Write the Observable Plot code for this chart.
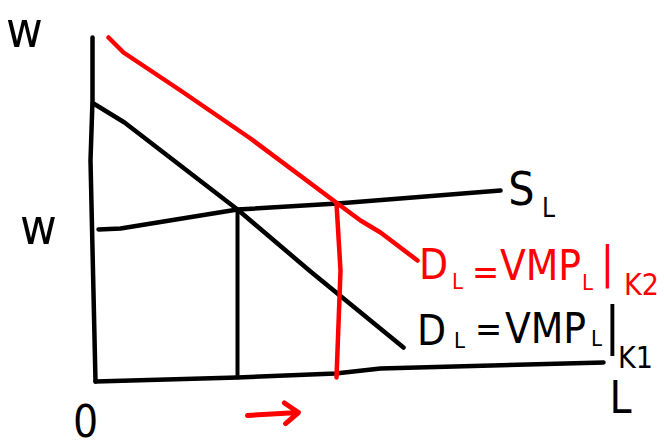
<!DOCTYPE html>
<html>
<head>
<meta charset="utf-8">
<script src="https://cdn.jsdelivr.net/npm/d3@7"></script>
<script src="https://cdn.jsdelivr.net/npm/@observablehq/plot@0.6"></script>
<style>
  html, body { margin: 0; padding: 0; background: #fff; }
</style>
</head>
<body>
<div id="chart"></div>
<script>
// ---- data (L = labour, w = wage) ----
const verticalAxis   = [[-0.06, 6.88], [-0.06, 5.62], [-0.1, 4.42], [0, 0]];
const horizontalAxis = [[0, 0], [2.84, 0.08], [4.8, 0.16], [5.7, 0.26], [10.16, 0.38]];
const demandK1 = [[-0.04, 5.56], [0.58, 5.18], [2.84, 3.44], [4.3, 2.2], [6.16, 0.68]];
const demandK2 = [[0.26, 6.88], [0.56, 6.58], [1.7, 5.82], [3.1, 4.86], [4.84, 3.56], [5.3, 3.22], [5.7, 2.98], [6.44, 2.42]];
const supply   = [[0.06, 3.04], [0.5, 3.06], [2.84, 3.44], [4.84, 3.56], [8.1, 3.82]];
const employmentK1 = [[2.84, 3.44], [2.84, 0.08]];
const employmentK2 = [[4.82, 3.56], [4.9, 2.22], [4.82, 0.08]];
const shiftArrow = [[3.04, -0.68], [4.06, -0.62]];

// axis / curve labels: [text, L, w]
const axisLabels   = [["w", -1.42, 7.02], ["w", -1.14, 3.08], ["0", -0.2, -0.82], ["L", 10.5, -0.34]];
const supplyLabel  = [["S", 8.52, 3.82], ["L", 9.06, 3.46]];
const labelK1Big   = [["D", 6.72, 1.0], ["VMP", 9.0, 1.04]];
const labelK1Small = [["L", 7.28, 0.82], ["L", 10.02, 0.86]];
const labelK1Eq    = [["=", 7.86, 1.04]];
const labelK1Bar   = [["|", 10.34, 1.1]];
const labelK1Sub   = [["K1", 10.8, 0.46]];
const labelK2Big   = [["D", 6.76, 2.32], ["VMP", 8.9, 2.3]];
const labelK2Small = [["L", 7.24, 2.0], ["L", 9.84, 1.98]];
const labelK2Eq    = [["=", 7.8, 2.18]];
const labelK2Bar   = [["|", 10.24, 2.36]];
const labelK2Sub   = [["K2", 10.92, 1.92]];

// ---- helpers ----
const pts = arr => arr.map(([L, w]) => ({L, w}));
const labs = arr => arr.map(([t, L, w]) => ({t, L, w}));
const FONT = "DejaVu Sans Condensed, DejaVu Sans, sans-serif";
const RED = "#ff0000";
const line = (arr, color, sw = 4.5) =>
  Plot.line(pts(arr), {x: "L", y: "w", stroke: color, strokeWidth: sw, curve: "linear",
    strokeLinecap: "round", strokeLinejoin: "round"});
const text = (arr, color, size) =>
  Plot.text(labs(arr), {x: "L", y: "w", text: "t", fill: color, fontSize: size,
    fontFamily: FONT, textAnchor: "middle", lineAnchor: "middle"});

const chart = Plot.plot({
  width: 664,
  height: 446,
  margin: 0,
  x: {domain: [-1.9, 11.38], axis: null},
  y: {domain: [-1.3, 7.62], axis: null},
  style: {background: "#fff"},
  marks: [
    line(verticalAxis, "#000", 4.5),
    line(horizontalAxis, "#000", 4.5),
    line(employmentK1, "#000", 4),
    line(supply, "#000", 4.5),
    line(demandK1, "#000", 4.5),
    line(demandK2, RED, 4.5),
    line(employmentK2, RED, 4.5),
    Plot.arrow([{x1: shiftArrow[0][0], y1: shiftArrow[0][1], x2: shiftArrow[1][0], y2: shiftArrow[1][1]}],
      {x1: "x1", y1: "y1", x2: "x2", y2: "y2", stroke: RED, strokeWidth: 5,
       headLength: 18, headAngle: 75, strokeLinecap: "round"}),
    text(axisLabels.slice(0, 2), "#000", 50),
    text(axisLabels.slice(2), "#000", 44),
    text(supplyLabel.slice(0, 1), "#000", 46),
    text(supplyLabel.slice(1), "#000", 26),
    text(labelK1Big, "#000", 42),
    text(labelK1Small, "#000", 22),
    text(labelK1Eq, "#000", 36),
    text(labelK1Bar, "#000", 52),
    text(labelK1Sub, "#000", 30),
    text(labelK2Big, RED, 42),
    text(labelK2Small, RED, 22),
    text(labelK2Eq, RED, 36),
    text(labelK2Bar, RED, 44),
    text(labelK2Sub, RED, 30)
  ]
});
document.getElementById("chart").append(chart);
</script>
</body>
</html>
